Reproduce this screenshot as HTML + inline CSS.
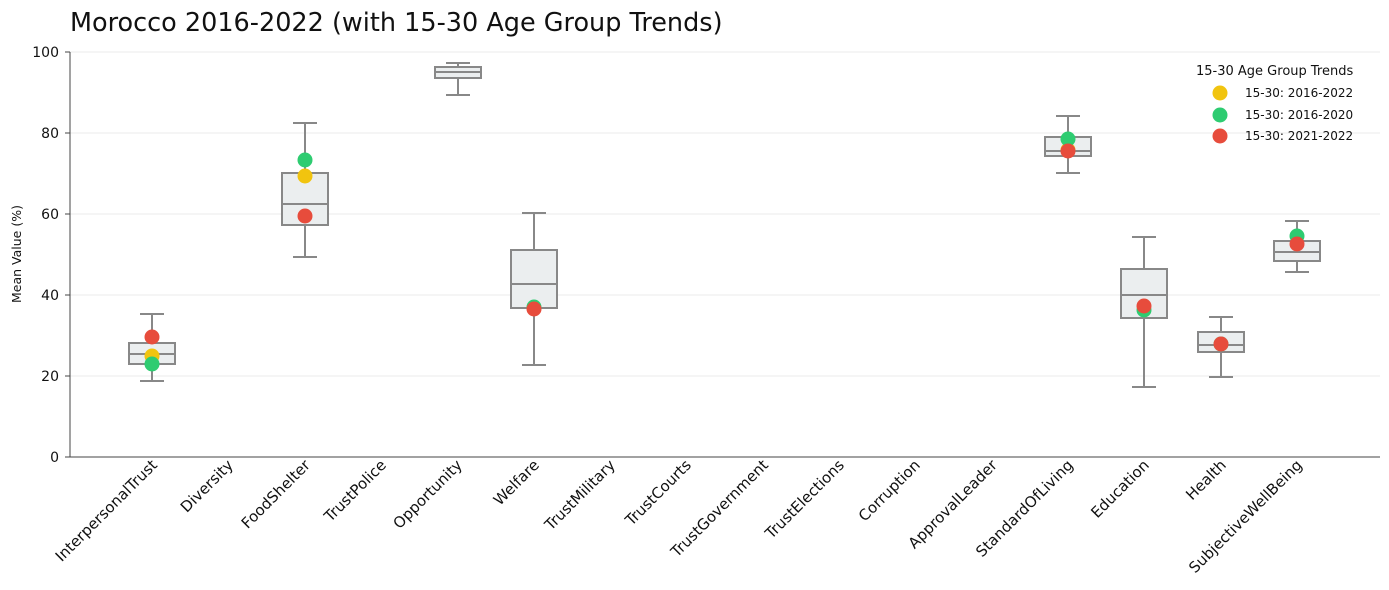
<!DOCTYPE html>
<html><head><meta charset="utf-8"><style>body{margin:0;background:#fff}svg{display:block;font-family:"DejaVu Sans",sans-serif}</style></head><body>
<svg width="1389" height="590" viewBox="0 0 1389 590">
<text x="70" y="31" font-size="25.5" fill="#111">Morocco 2016-2022 (with 15-30 Age Group Trends)</text>
<g stroke="#ebebeb" stroke-width="1">
<line x1="70" x2="1380" y1="52" y2="52"/><line x1="70" x2="1380" y1="133" y2="133"/><line x1="70" x2="1380" y1="214" y2="214"/><line x1="70" x2="1380" y1="295" y2="295"/><line x1="70" x2="1380" y1="376" y2="376"/>
</g>
<line x1="70" x2="1380" y1="457" y2="457" stroke="#444"/>
<line x1="70" x2="70" y1="52" y2="457" stroke="#444"/>
<g font-size="14" fill="#111" text-anchor="end">
<text x="59" y="57">100</text><text x="59" y="138">80</text><text x="59" y="219">60</text><text x="59" y="300">40</text><text x="59" y="381">20</text><text x="59" y="462">0</text>
</g>
<g stroke="#444"><line x1="65" x2="70" y1="52" y2="52"/><line x1="65" x2="70" y1="133" y2="133"/><line x1="65" x2="70" y1="214" y2="214"/><line x1="65" x2="70" y1="295" y2="295"/><line x1="65" x2="70" y1="376" y2="376"/><line x1="65" x2="70" y1="457" y2="457"/></g>
<text transform="translate(21,254) rotate(-90)" font-size="12.5" text-anchor="middle" fill="#111">Mean Value (%)</text>
<g font-size="15" fill="#111" text-anchor="end">
<text transform="translate(158,466) rotate(-45)">InterpersonalTrust</text>
<text transform="translate(234,466) rotate(-45)">Diversity</text>
<text transform="translate(311,466) rotate(-45)">FoodShelter</text>
<text transform="translate(387,466) rotate(-45)">TrustPolice</text>
<text transform="translate(463,466) rotate(-45)">Opportunity</text>
<text transform="translate(540,466) rotate(-45)">Welfare</text>
<text transform="translate(616,466) rotate(-45)">TrustMilitary</text>
<text transform="translate(692,466) rotate(-45)">TrustCourts</text>
<text transform="translate(769,466) rotate(-45)">TrustGovernment</text>
<text transform="translate(845,466) rotate(-45)">TrustElections</text>
<text transform="translate(921,466) rotate(-45)">Corruption</text>
<text transform="translate(998,466) rotate(-45)">ApprovalLeader</text>
<text transform="translate(1074,466) rotate(-45)">StandardOfLiving</text>
<text transform="translate(1150,466) rotate(-45)">Education</text>
<text transform="translate(1227,466) rotate(-45)">Health</text>
<text transform="translate(1303,466) rotate(-45)">SubjectiveWellBeing</text>
</g>
<g stroke="#888" stroke-width="2" fill="#ebeeef">
<path d="M152 314V343M152 364V381M140 314H164M140 381H164"/><rect x="129" y="343" width="46" height="21"/><path d="M129 354H175"/>
<path d="M305 123V173M305 225V257M293 123H317M293 257H317"/><rect x="282" y="173" width="46" height="52"/><path d="M282 204H328"/>
<path d="M458 63V67M458 78V95M446 63H470M446 95H470"/><rect x="435" y="67" width="46" height="11"/><path d="M435 72H481"/>
<path d="M534 213V250M534 308V365M522 213H546M522 365H546"/><rect x="511" y="250" width="46" height="58"/><path d="M511 284H557"/>
<path d="M1068 116V137M1068 156V173M1056 116H1080M1056 173H1080"/><rect x="1045" y="137" width="46" height="19"/><path d="M1045 151H1091"/>
<path d="M1144 237V269M1144 318V387M1132 237H1156M1132 387H1156"/><rect x="1121" y="269" width="46" height="49"/><path d="M1121 295H1167"/>
<path d="M1221 317V332M1221 352V377M1209 317H1233M1209 377H1233"/><rect x="1198" y="332" width="46" height="20"/><path d="M1198 345H1244"/>
<path d="M1297 221V241M1297 261V272M1285 221H1309M1285 272H1309"/><rect x="1274" y="241" width="46" height="20"/><path d="M1274 252H1320"/>
</g>
<g>
<circle cx="152" cy="356" r="7.5" fill="#f1c40f"/><circle cx="152" cy="364" r="7.5" fill="#2ecc71"/><circle cx="152" cy="337" r="7.5" fill="#e74c3c"/>
<circle cx="305" cy="176" r="7.5" fill="#f1c40f"/><circle cx="305" cy="160" r="7.5" fill="#2ecc71"/><circle cx="305" cy="216" r="7.5" fill="#e74c3c"/>
<circle cx="534" cy="307" r="7.5" fill="#2ecc71"/><circle cx="534" cy="309" r="7.5" fill="#e74c3c"/>
<circle cx="1068" cy="150" r="7.5" fill="#f1c40f"/><circle cx="1068" cy="139" r="7.5" fill="#2ecc71"/><circle cx="1068" cy="151" r="7.5" fill="#e74c3c"/>
<circle cx="1144" cy="310" r="7.5" fill="#2ecc71"/><circle cx="1144" cy="306" r="7.5" fill="#e74c3c"/>
<circle cx="1221" cy="344" r="7.5" fill="#2ecc71"/><circle cx="1221" cy="344" r="7.5" fill="#e74c3c"/>
<circle cx="1297" cy="236" r="7.5" fill="#2ecc71"/><circle cx="1297" cy="244" r="7.5" fill="#e74c3c"/>
</g>
<text x="1196" y="75" font-size="13" fill="#111">15-30 Age Group Trends</text>
<circle cx="1220" cy="93" r="7.5" fill="#f1c40f"/><text x="1245" y="97" font-size="12" fill="#111">15-30: 2016-2022</text>
<circle cx="1220" cy="115" r="7.5" fill="#2ecc71"/><text x="1245" y="119" font-size="12" fill="#111">15-30: 2016-2020</text>
<circle cx="1220" cy="136" r="7.5" fill="#e74c3c"/><text x="1245" y="140" font-size="12" fill="#111">15-30: 2021-2022</text>
</svg>
</body></html>
